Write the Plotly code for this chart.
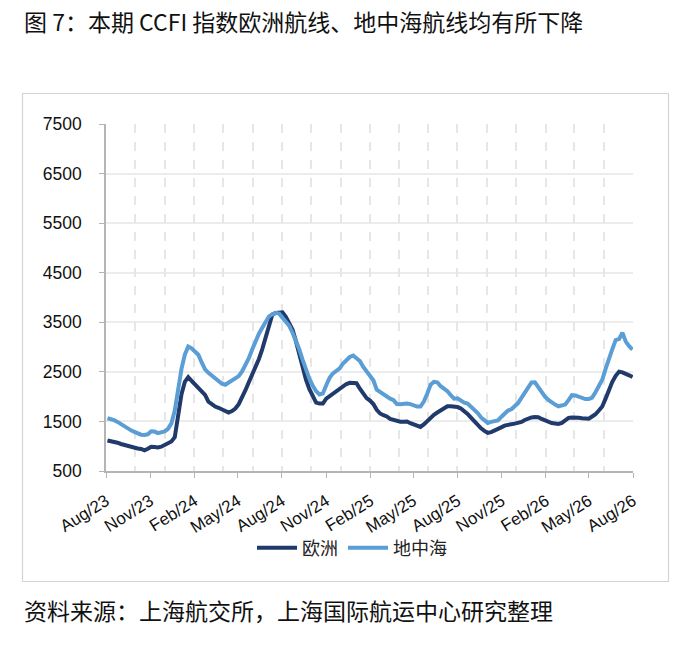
import pandas as pd
import plotly.graph_objects as go

# weekly CCFI sub-indices, Aug 2023 -> Jul 2026
dates = pd.date_range("2023-08-04", periods=157, freq="7D")

europe = [
    1115, 1105, 1095, 1070, 1045, 1025, 1005, 985, 965, 955,
    945, 918, 950, 990, 985, 975, 990, 1025, 1060, 1095,
    1180, 1650, 2050, 2300, 2394, 2320, 2250, 2180, 2120, 2035,
    1900, 1840, 1800, 1775, 1745, 1710, 1680, 1710, 1760, 1850,
    1980, 2130, 2290, 2440, 2600, 2760, 2960, 3200, 3440, 3660,
    3690, 3697, 3700, 3610, 3480, 3350, 3120, 2840, 2560, 2340,
    2150, 1990, 1880, 1860, 1860, 1960, 2010, 2050, 2100, 2165,
    2215, 2255, 2280, 2285, 2270, 2160, 2060, 1970, 1920, 1850,
    1735, 1660, 1625, 1600, 1550, 1525, 1512, 1495, 1495, 1500,
    1465, 1440, 1410, 1390, 1440, 1510, 1580, 1635, 1680, 1725,
    1780, 1805, 1805, 1800, 1790, 1760, 1710, 1650, 1575, 1500,
    1425, 1360, 1310, 1270, 1285, 1310, 1345, 1380, 1415, 1440,
    1445, 1455, 1470, 1490, 1530, 1560, 1580, 1590, 1585, 1550,
    1520, 1490, 1466, 1460, 1450, 1470, 1510, 1570, 1580, 1585,
    1575, 1565, 1560, 1555, 1600, 1645, 1720, 1800, 1960, 2140,
    2300, 2420, 2505, 2490, 2470, 2430, 2395,
]

mediterranean = [
    1565, 1550, 1525, 1490, 1445, 1400, 1355, 1320, 1290, 1255,
    1232, 1228, 1240, 1300, 1295, 1265, 1275, 1298, 1350, 1460,
    1720, 2190, 2560, 2850, 3012, 2975, 2920, 2845, 2690, 2550,
    2480, 2420, 2360, 2300, 2260, 2240, 2285, 2345, 2370, 2415,
    2510, 2630, 2775, 2950, 3120, 3270, 3390, 3500, 3620, 3660,
    3690, 3675, 3600, 3500, 3430, 3290, 3130, 2950, 2740, 2540,
    2360, 2220, 2110, 2045, 2065, 2230, 2380, 2470, 2510, 2570,
    2670, 2730, 2800, 2830, 2770, 2720, 2600, 2510, 2440, 2330,
    2140, 2090, 2035, 1990, 1960, 1930, 1850, 1845, 1856, 1860,
    1850, 1820, 1800, 1800, 1900, 2060, 2240, 2300, 2290, 2210,
    2160, 2110, 2030, 1960, 1965, 1915, 1880, 1860, 1800, 1745,
    1670, 1580, 1520, 1470, 1490, 1505, 1520, 1590, 1665, 1720,
    1745, 1800, 1870, 1975, 2070, 2180, 2286, 2290, 2190, 2080,
    2000, 1935, 1880, 1840, 1805, 1815, 1840, 1930, 2030, 2025,
    2000, 1960, 1950, 1950, 1980, 2090, 2230, 2340, 2560, 2790,
    2960, 3140, 3160, 3290, 3110, 3020, 2950,
]

series_names = ["欧洲", "地中海"]
series_colors = ["#1F3A6B", "#5B9DD5"]

title_text = "图 7：本期 CCFI 指数欧洲航线、地中海航线均有所下降"
source_text = "资料来源：上海航交所，上海国际航运中心研究整理"

CJK = "Noto Sans CJK SC"
LAT = "Liberation Sans, Arial, sans-serif"
x_range = ["2023-08-01", "2026-08-01"]

fig = go.Figure()
for name, vals, col in zip(series_names, [europe, mediterranean], series_colors):
    fig.add_trace(go.Scatter(
        x=dates, y=vals, mode="lines", name=name,
        line=dict(color=col, width=4),
    ))

# plot area in page pixels (page body margin is removed below)
W, H = 689, 645
L, T = 106, 124
R, B = W - 633, H - 471
pw, ph = W - L - R, H - T - B


def px(xp):
    return (xp - L) / pw


def py(yp):
    return (H - B - yp) / ph


fig.update_layout(
    width=W, height=H,
    margin=dict(l=L, r=R, t=T, b=B),
    paper_bgcolor="white", plot_bgcolor="white",
    showlegend=True,
    legend=dict(orientation="h", x=px(352), xanchor="center", y=py(548), yanchor="middle",
                font=dict(family=CJK, size=18, color="#222"), itemwidth=40,
                bgcolor="rgba(0,0,0,0)"),
    xaxis=dict(
        type="date", range=x_range, dtick="M3", tick0="2023-08-01",
        tickformat="%b/%y", tickangle=-32,
        showgrid=False, showline=True, linecolor="#b4b4b4", linewidth=1.5,
        ticks="outside", ticklen=5, tickcolor="#b4b4b4",
        ticklabelstandoff=7,
        tickfont=dict(family=LAT, size=17, color="#111"),
        zeroline=False,
    ),
    xaxis2=dict(
        type="date", range=x_range, dtick="M2", tick0="2023-08-01",
        overlaying="x", matches="x", showticklabels=False, ticks="",
        showgrid=True, griddash="dash", gridcolor="#e6e6e6", gridwidth=1.5,
        showline=False, zeroline=False,
    ),
    yaxis=dict(
        range=[500, 7500], dtick=1000, tick0=500,
        showgrid=True, gridcolor="#ececec", gridwidth=1.5,
        showline=True, linecolor="#b4b4b4", linewidth=1.5,
        ticks="outside", ticklen=5, tickcolor="#b4b4b4",
        ticklabelstandoff=14,
        tickfont=dict(family=LAT, size=17.5, color="#111"),
        zeroline=False,
    ),
)

# invisible anchor trace so the dashed-grid overlay axis is drawn
fig.add_trace(go.Scatter(x=[x_range[0]], y=[None], xaxis="x2", showlegend=False,
                         hoverinfo="skip", mode="lines"))

# frame around the chart body
fig.add_shape(type="rect", xref="paper", yref="paper",
              x0=px(22.5), x1=px(668.5), y0=py(581.5), y1=py(93.5),
              line=dict(color="#d4d4d4", width=1.2), layer="below")

fig.add_annotation(text=title_text, xref="paper", yref="paper",
                   x=px(22), y=py(21), xanchor="left", yanchor="middle",
                   showarrow=False, font=dict(family=CJK, size=23, color="#111"))
fig.add_annotation(text=source_text, xref="paper", yref="paper",
                   x=px(22), y=py(610), xanchor="left", yanchor="middle",
                   showarrow=False, font=dict(family=CJK, size=23, color="#111"))

fig.write_html("out.html", config={"displayModeBar": False},
               post_script="document.body.style.margin='0';")
